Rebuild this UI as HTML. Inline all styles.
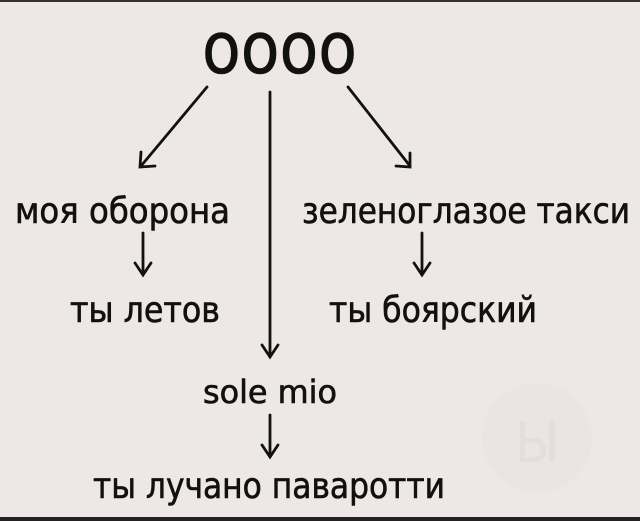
<!DOCTYPE html>
<html><head><meta charset="utf-8"><style>
html,body{margin:0;padding:0;background:#ede8e6;}
svg{display:block;}
text{font-family:"DejaVu Sans Condensed","Liberation Sans",sans-serif;fill:#111;stroke:#111;stroke-width:0.6;}
</style></head><body>
<svg width="640" height="521" viewBox="0 0 640 521" xmlns="http://www.w3.org/2000/svg">
<rect width="640" height="521" fill="#ede8e6"/>
<rect x="0" y="0" width="640" height="2" fill="#333"/>
<rect x="0" y="517" width="640" height="4" fill="#222"/>
<circle cx="537" cy="438" r="55" fill="#eae4e2"/>
<text x="515" y="462" font-size="56" style="fill:#e4dddb;stroke:none" font-family="Liberation Serif">Ы</text>
<text x="202" y="73" font-size="72" textLength="155" lengthAdjust="spacingAndGlyphs">оооо</text>
<text x="15" y="223" font-size="36" textLength="215" lengthAdjust="spacingAndGlyphs">моя оборона</text>
<text x="302" y="223" font-size="36" textLength="328" lengthAdjust="spacingAndGlyphs">зеленоглазое такси</text>
<text x="70" y="322" font-size="36" textLength="150" lengthAdjust="spacingAndGlyphs">ты летов</text>
<text x="329" y="322" font-size="36" textLength="208" lengthAdjust="spacingAndGlyphs">ты боярский</text>
<text x="203" y="403" font-size="32" textLength="134" lengthAdjust="spacingAndGlyphs">sole mio</text>
<text x="93" y="498" font-size="36" textLength="352" lengthAdjust="spacingAndGlyphs">ты лучано паваротти</text>
<g stroke="#111" stroke-width="2.8" fill="none" stroke-linecap="round">
<line x1="207" y1="87" x2="141" y2="166"/>
<polyline points="141,152 140,167 155,166"/>
<line x1="348" y1="87" x2="410" y2="166"/>
<polyline points="396,166 410,167 410,153"/>
<line x1="270" y1="92" x2="270" y2="356"/>
<polyline points="262,345 270,357 278,345"/>
<line x1="143" y1="233" x2="143" y2="274"/>
<polyline points="135,263 143,275 151,263"/>
<line x1="422" y1="233" x2="422" y2="274"/>
<polyline points="414,263 422,275 430,263"/>
<line x1="270" y1="415" x2="270" y2="456"/>
<polyline points="262,445 270,457 278,445"/>
</g>
</svg>
</body></html>
